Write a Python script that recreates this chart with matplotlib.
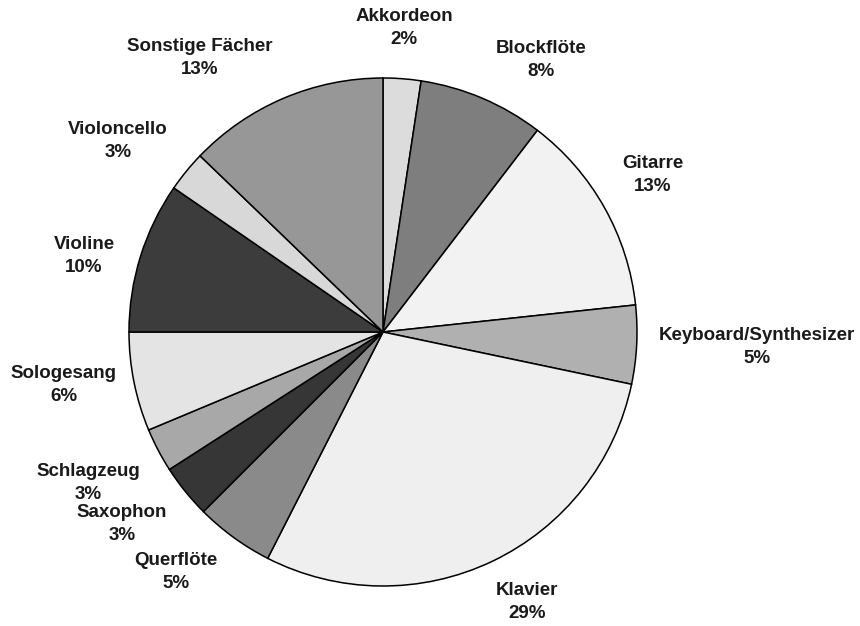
import matplotlib.pyplot as plt

plt.rcParams['font.family'] = ['Liberation Sans', 'DejaVu Sans']

faecher = ['Akkordeon', 'Blockflöte', 'Gitarre', 'Keyboard/Synthesizer', 'Klavier',
           'Querflöte', 'Saxophon', 'Schlagzeug', 'Sologesang', 'Violine',
           'Violoncello', 'Sonstige Fächer']
anteile = [2.4, 8.0, 12.9, 5.0, 29.2, 5.0, 3.4, 2.8, 6.3, 9.6, 2.6, 12.8]

grautoene = ['#dcdcdc', '#7e7e7e', '#f2f2f2', '#b0b0b0', '#efefef', '#8a8a8a',
             '#363636', '#a8a8a8', '#e4e4e4', '#3c3c3c', '#d8d8d8', '#979797']

# label anchor positions (pie radius = 1)
label_pos = [(0.083, 1.197), (0.622, 1.071), (1.063, 0.618), (1.472, -0.059),
             (0.567, -1.063), (-0.815, -0.945), (-1.028, -0.756), (-1.161, -0.594),
             (-1.256, -0.209), (-1.177, 0.299), (-1.043, 0.752), (-0.720, 1.079)]

fig = plt.figure(figsize=(8.6, 6.26), dpi=100)
ax = fig.add_axes([0, 0, 1, 1])

ax.pie(anteile, colors=grautoene, startangle=90, counterclock=False, radius=1,
       wedgeprops=dict(edgecolor='black', linewidth=1.1))

for name, val, (x, y) in zip(faecher, anteile, label_pos):
    ax.text(x, y, f'{name}\n{val:.0f}%', ha='center', va='center', fontsize=13.5,
            fontweight='bold', linespacing=1.5, color='#1a1a1a')

ax.set_xlim(-383 / 254, (860 - 383) / 254)
ax.set_ylim(-(626 - 332) / 254, 332 / 254)
ax.set_aspect('equal')
ax.axis('off')

fig.savefig('out.png', dpi=100)
